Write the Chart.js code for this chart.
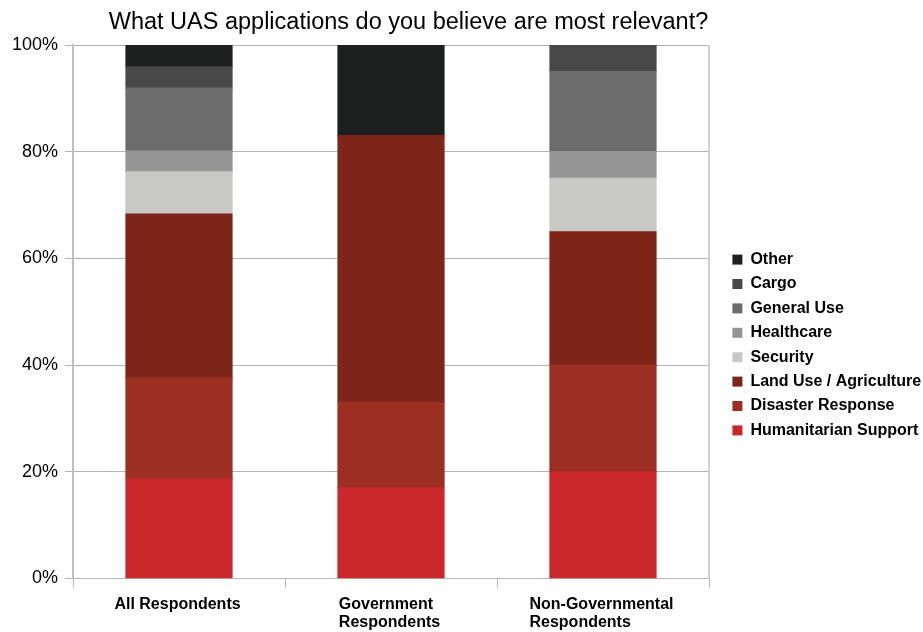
<!DOCTYPE html>
<html>
<head>
<meta charset="utf-8">
<script src="https://cdn.jsdelivr.net/npm/chart.js@4.4.1/dist/chart.umd.min.js"></script>
<style>
  html, body { margin: 0; padding: 0; background: #ffffff; }
  #wrap { width: 923px; height: 632px; position: relative; }
</style>
</head>
<body>
<div id="wrap"><canvas id="c"></canvas></div>
<script>
// Survey: which UAS applications respondents consider most relevant (share of answers, %)
const chartTitle = 'What UAS applications do you believe are most relevant?';
const categories = [['All Respondents'], ['Government', 'Respondents'], ['Non-Governmental', 'Respondents']];

const seriesNames = ['Humanitarian Support', 'Disaster Response', 'Land Use / Agriculture',
  'Security', 'Healthcare', 'General Use', 'Cargo', 'Other'];
const humanitarianSupport = [18.7, 17, 20];
const disasterResponse    = [18.9, 16, 20];
const landUseAgriculture  = [30.7, 50, 25];
const security            = [7.9, 0, 10];
const healthcare          = [3.9, 0, 5];
const generalUse          = [11.8, 0, 15];
const cargo               = [4.0, 0, 5];
const other               = [4.1, 17, 0];

const yTickLabels = ['0%', '20%', '40%', '60%', '80%', '100%'];

const seriesValues = [humanitarianSupport, disasterResponse, landUseAgriculture, security,
  healthcare, generalUse, cargo, other];
const seriesColors = ['#ca282b', '#9c2e22', '#7d2518', '#c8c8c7', '#959595', '#6c6c6c', '#484848', '#1d1f1e'];

const FONT = "'Liberation Sans', Arial, sans-serif";

// Title drawn centred over the plot block
const titlePlugin = {
  id: 'titleText',
  afterDraw(chart) {
    const ctx = chart.ctx;
    ctx.save();
    ctx.font = '23.5px ' + FONT;
    ctx.fillStyle = '#000';
    ctx.textAlign = 'center';
    ctx.textBaseline = 'alphabetic';
    ctx.fillText(chartTitle, 408.5, 29);
    ctx.restore();
  }
};

// Right-hand frame line of the plot area
const framePlugin = {
  id: 'frameRight',
  afterDatasetsDraw(chart) {
    const { ctx, chartArea } = chart;
    ctx.save();
    ctx.strokeStyle = '#cfcfcf';
    ctx.lineWidth = 2;
    ctx.beginPath();
    ctx.moveTo(chartArea.right, chartArea.top);
    ctx.lineTo(chartArea.right, chartArea.bottom);
    ctx.stroke();
    ctx.restore();
  }
};

// Category labels: each block centred under its bar, lines left-aligned
const categoryLabelPlugin = {
  id: 'categoryLabels',
  afterDraw(chart) {
    const { ctx, chartArea } = chart;
    const xs = chart.scales.x;
    ctx.save();
    ctx.font = 'bold 16px ' + FONT;
    ctx.fillStyle = '#000';
    ctx.textAlign = 'left';
    ctx.textBaseline = 'alphabetic';
    categories.forEach((lines, i) => {
      const cx = xs.getPixelForValue(i);
      const w = Math.max(...lines.map(l => ctx.measureText(l).width));
      lines.forEach((l, j) => {
        ctx.fillText(l, cx - w / 2 - 1.5, chartArea.bottom + 30.5 + j * 18);
      });
    });
    ctx.restore();
  }
};

new Chart(document.getElementById('c'), {
  type: 'bar',
  data: {
    labels: categories,
    datasets: seriesNames.map((name, k) => ({
      label: name,
      data: seriesValues[k],
      backgroundColor: seriesColors[k],
      borderWidth: 0,
      inflateAmount: 0.6,
      categoryPercentage: 1.0,
      barPercentage: 0.5
    }))
  },
  options: {
    responsive: true,
    maintainAspectRatio: false,
    animation: false,
    layout: { padding: { top: 45, right: 0, bottom: 0, left: 0 } },
    plugins: {
      title: { display: false },
      tooltip: { enabled: false },
      legend: {
        position: 'right',
        reverse: true,
        maxWidth: 199,
        title: { display: true, text: ' ', padding: 0, font: { size: 13, lineHeight: 1 } },
        labels: {
          boxWidth: 10,
          boxHeight: 10,
          padding: 8.4,
          color: '#000',
          font: { family: FONT, size: 16, weight: 'bold' }
        }
      }
    },
    scales: {
      x: {
        stacked: true,
        offset: true,
        grid: {
          offset: true,
          drawOnChartArea: false,
          drawTicks: true,
          tickLength: 9,
          color: '#b3b3b3'
        },
        border: { display: true, color: '#b8b8b8', width: 1 },
        ticks: { display: false },
        afterFit(scale) { scale.height = 53.5; }
      },
      y: {
        stacked: true,
        min: 0,
        max: 100,
        ticks: {
          stepSize: 20,
          padding: 7,
          color: '#000',
          font: { family: FONT, size: 18 },
          callback: (v) => yTickLabels[Math.round(v / 20)]
        },
        grid: {
          color: '#b3b3b3',
          lineWidth: 1,
          drawTicks: true,
          tickLength: 8
        },
        border: { display: true, color: '#c0c0c0', width: 2 },
        afterFit(scale) { scale.width = 73; }
      },
      // empty spacer between the plot frame and the legend
      gap: {
        type: 'linear',
        position: 'right',
        display: true,
        grid: { display: false, drawTicks: false },
        ticks: { display: false },
        border: { display: false },
        afterFit(scale) { scale.width = 15; }
      }
    }
  },
  plugins: [titlePlugin, framePlugin, categoryLabelPlugin]
});
</script>
</body>
</html>
